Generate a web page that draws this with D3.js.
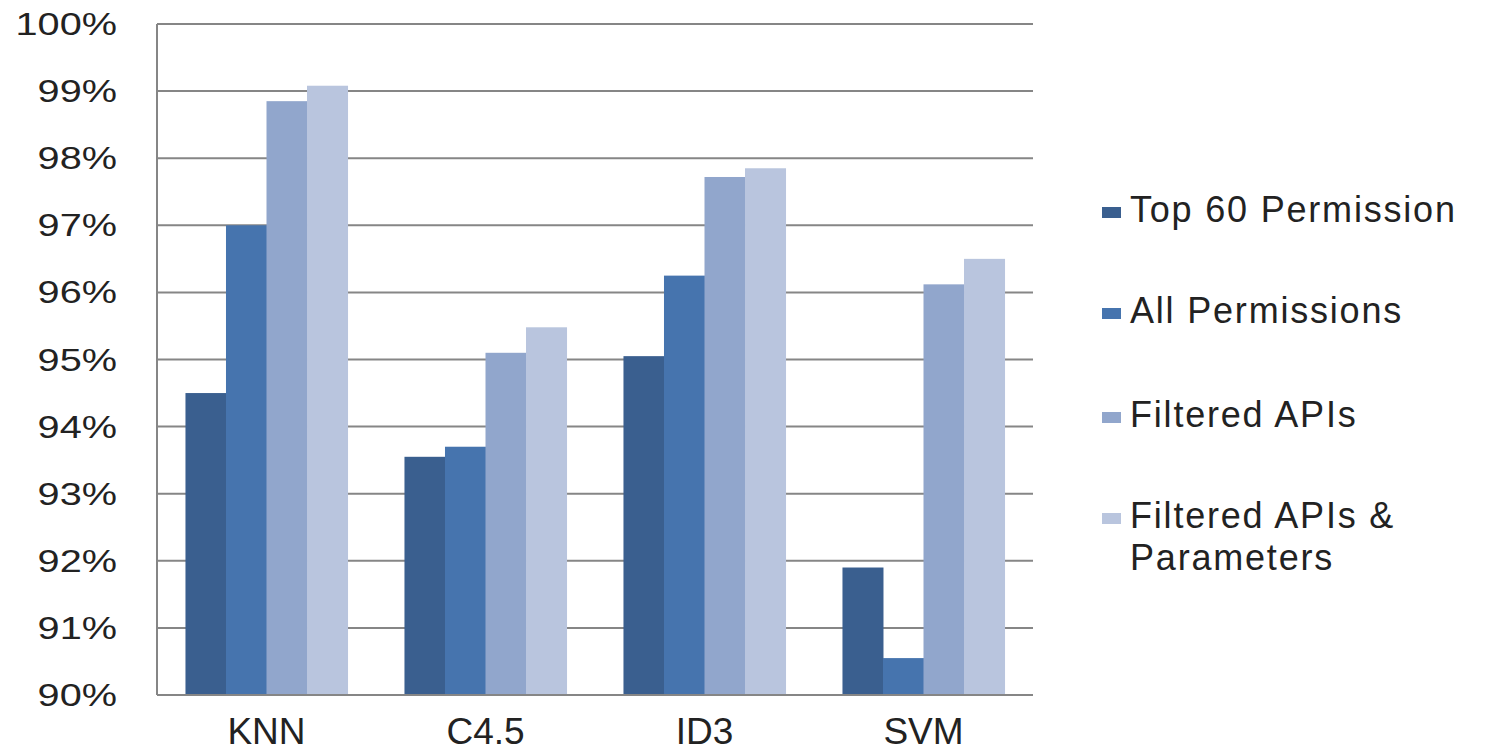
<!DOCTYPE html>
<html>
<head>
<meta charset="utf-8">
<script src="https://cdn.jsdelivr.net/npm/d3@7"></script>
<style>
  html, body { margin: 0; padding: 0; background: #fff; }
  svg { display: block; font-family: "Liberation Sans", Arial, sans-serif; }
</style>
</head>
<body>
<svg id="chart" width="1495" height="752"></svg>
<script>
// Classifier accuracy by feature set
const classifiers = ["KNN", "C4.5", "ID3", "SVM"];
const seriesNames = ["Top 60 Permission", "All Permissions", "Filtered APIs", "Filtered APIs & Parameters"];
const top60Permission = [94.5, 93.55, 95.05, 91.9];
const allPermissions = [97.0, 93.7, 96.25, 90.55];
const filteredAPIs = [98.85, 95.1, 97.72, 96.12];
const filteredAPIsParams = [99.08, 95.48, 97.85, 96.5];
const yTicks = [90, 91, 92, 93, 94, 95, 96, 97, 98, 99, 100];
const colors = ["#3a5f8f", "#4674ae", "#91a6cc", "#b9c5de"];

const seriesValues = [top60Permission, allPermissions, filteredAPIs, filteredAPIsParams];

const svg = d3.select("#chart");
const margin = { left: 157, right: 1033, top: 24, bottom: 695 };

const x = d3.scaleBand()
  .domain(classifiers)
  .range([margin.left, margin.right])
  .paddingInner(0.26)
  .paddingOuter(0.13);

const xSeries = d3.scaleBand()
  .domain(d3.range(seriesNames.length))
  .range([0, x.bandwidth()]);

const y = d3.scaleLinear().domain([90, 100]).range([margin.bottom, margin.top]);

// Horizontal gridlines
svg.append("g")
  .selectAll("line")
  .data(yTicks)
  .join("line")
  .attr("x1", margin.left)
  .attr("x2", margin.right)
  .attr("y1", d => y(d))
  .attr("y2", d => y(d))
  .attr("stroke", "#868686")
  .attr("stroke-width", 2);

// Bars
const groups = svg.append("g")
  .selectAll("g")
  .data(classifiers)
  .join("g")
  .attr("transform", d => `translate(${x(d)},0)`);

groups.selectAll("rect")
  .data((c, ci) => seriesValues.map((vals, si) => ({ si, v: vals[ci] })))
  .join("rect")
  .attr("x", d => xSeries(d.si))
  .attr("width", xSeries.bandwidth() + 0.5)
  .attr("y", d => y(d.v))
  .attr("height", d => y(90) - y(d.v))
  .attr("fill", d => colors[d.si]);

// Axis lines
svg.append("line")
  .attr("x1", margin.left).attr("x2", margin.left)
  .attr("y1", margin.top).attr("y2", margin.bottom)
  .attr("stroke", "#868686").attr("stroke-width", 2);
svg.append("line")
  .attr("x1", margin.left).attr("x2", margin.right)
  .attr("y1", margin.bottom).attr("y2", margin.bottom)
  .attr("stroke", "#868686").attr("stroke-width", 2);

// Y tick labels
svg.append("g")
  .selectAll("g")
  .data(yTicks)
  .join("g")
  .attr("transform", d => `translate(117,${y(d) + 11}) scale(1.28,1)`)
  .append("text")
  .attr("text-anchor", "end")
  .attr("font-size", 31)
  .attr("fill", "#222")
  .text(d => d + "%");

// X category labels
svg.append("g")
  .selectAll("text")
  .data(classifiers)
  .join("text")
  .attr("x", d => x(d) + x.bandwidth() / 2)
  .attr("y", 744)
  .attr("text-anchor", "middle")
  .attr("font-size", 37)
  .attr("fill", "#222")
  .text(d => d);

// Legend
const legendRows = [
  { lines: ["Top 60 Permission"], y: 222 },
  { lines: ["All Permissions"], y: 323 },
  { lines: ["Filtered APIs"], y: 427 },
  { lines: ["Filtered APIs &", "Parameters"], y: 528 }
];
const legend = svg.append("g");
legendRows.forEach((row, i) => {
  legend.append("rect")
    .attr("x", 1102)
    .attr("y", row.y - 15)
    .attr("width", 19)
    .attr("height", 11)
    .attr("fill", colors[i]);
  const t = legend.append("text")
    .attr("x", 1130)
    .attr("y", row.y)
    .attr("font-size", 36)
    .attr("letter-spacing", 1.8)
    .attr("fill", "#222");
  row.lines.forEach((ln, li) => {
    t.append("tspan")
      .attr("x", 1130)
      .attr("dy", li === 0 ? 0 : 42)
      .text(ln);
  });
});
</script>
</body>
</html>
